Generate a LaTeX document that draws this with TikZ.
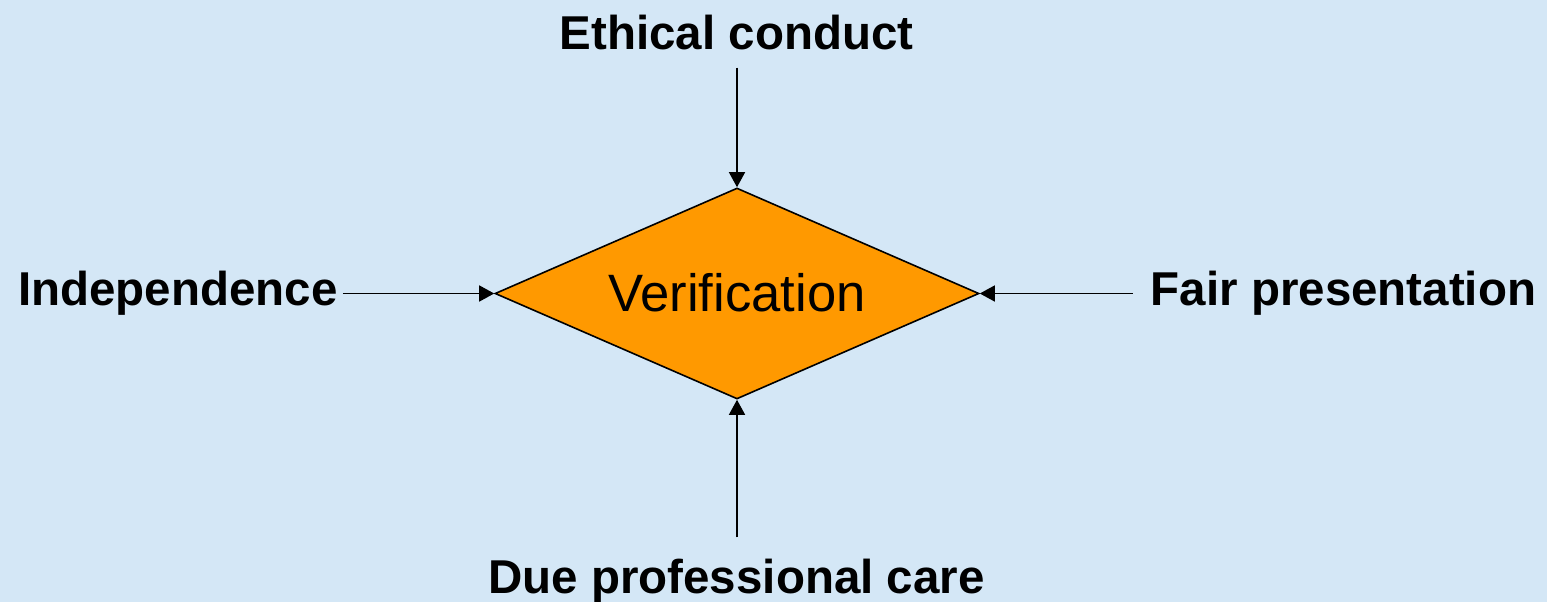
\documentclass[tikz,border=0pt]{standalone}
\usepackage{fontspec}
\setmainfont{Liberation Sans}
\usetikzlibrary{shapes.geometric,arrows.meta}
\definecolor{bgblue}{RGB}{212,231,246}
\definecolor{vorange}{RGB}{255,153,0}
\begin{document}
\begin{tikzpicture}[x=1pt,y=-1pt,
 lbl/.style={font=\fontsize{47.5}{50}\selectfont\bfseries, inner sep=0pt, anchor=base},
 dia/.style={diamond, aspect=2.294, draw=black, line width=1.6pt, fill=vorange, minimum width=484pt, minimum height=211pt, inner sep=0pt, font=\fontsize{52.6}{56}\selectfont},
 arr/.style={line width=1.5pt, -{Triangle[length=15pt,width=16pt]}}]
\fill[bgblue] (0,0) rectangle (1547,602);
\useasboundingbox (0,0) rectangle (1547,602);
\node[dia] (v) at (737,293.5) {\raisebox{2.5pt}{Verification}};
\node[lbl] (ec) at (736.5,49) {Ethical conduct};
\node[lbl] (ind) at (178,305) {Independence};
\node[lbl] (fp) at (1343.5,305) {Fair presentation};
\node[lbl] (dpc) at (736.5,593) {Due professional care};
\draw[arr, shorten <=18pt] (ec.south -| v.north) -- (v.north);
\draw[arr, shorten <=5pt] (ind.east |- v.west) -- (v.west);
\draw[arr, shorten <=18pt] (fp.west |- v.east) -- (v.east);
\draw[arr, shorten <=21pt] (dpc.north -| v.south) -- (v.south);
\end{tikzpicture}
\end{document}
